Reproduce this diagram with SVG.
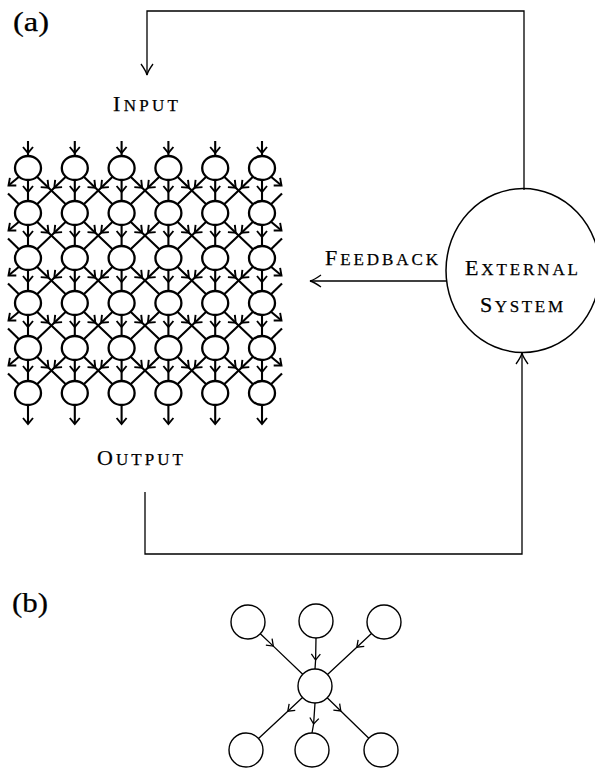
<svg xmlns="http://www.w3.org/2000/svg" width="595" height="768" viewBox="0 0 595 768">
<style>
.g{fill:none;stroke:#000;stroke-width:2.1}
.gm{marker-mid:url(#ag)}
.ge{marker-end:url(#ag)}
.n{fill:#fff;stroke:#000;stroke-width:2.3}
.l{fill:none;stroke:#000;stroke-width:1.3}
.bn{fill:#fff;stroke:#000;stroke-width:1.4}
.bm{marker-mid:url(#ab)}
text{font-family:"Liberation Serif","DejaVu Serif",serif;fill:#000;stroke:#000;stroke-width:0.25}
.sc{font-size:22px}
.sm{font-size:17px}
</style>
<defs>
<marker id="ag" markerUnits="userSpaceOnUse" viewBox="-10 -10 20 20" markerWidth="20" markerHeight="20" refX="0" refY="0" orient="auto" overflow="visible"><path d="M-6,-5 L0,0 L-6,5" fill="none" stroke="#000" stroke-width="1.9"/></marker>
<marker id="al" markerUnits="userSpaceOnUse" viewBox="-15 -15 30 30" markerWidth="30" markerHeight="30" refX="0" refY="0" orient="auto" overflow="visible"><path d="M-11,-6 Q-4,-1 0,0 Q-4,1 -11,6" fill="none" stroke="#000" stroke-width="1.3"/></marker>
<marker id="ab" markerUnits="userSpaceOnUse" viewBox="-10 -10 20 20" markerWidth="20" markerHeight="20" refX="0" refY="0" orient="auto" overflow="visible"><path d="M-6,-4.5 L0,0 L-6,4.5" fill="none" stroke="#000" stroke-width="1.3"/></marker>
</defs>
<rect width="595" height="768" fill="#fff"/>
<text x="13" y="31" font-size="27" textLength="36" lengthAdjust="spacingAndGlyphs">(a)</text>
<text x="12" y="612" font-size="27" textLength="36" lengthAdjust="spacingAndGlyphs">(b)</text>
<text class="sc" x="113" y="111" textLength="65" lengthAdjust="spacing">I<tspan class="sm">NPUT</tspan></text>
<text class="sc" x="325" y="265" textLength="113" lengthAdjust="spacing">F<tspan class="sm">EEDBACK</tspan></text>
<text class="sc" x="97" y="465" textLength="86" lengthAdjust="spacing">O<tspan class="sm">UTPUT</tspan></text>
<g id="connectors">
<path class="l" d="M524,190 L524,11 L147,11 L147,75" marker-end="url(#al)"/>
<path class="l" d="M446,281 L310,281" marker-end="url(#al)"/>
<path class="l" d="M145,492 L145,554 L522,554 L522,353" marker-end="url(#al)"/>
<g class="g">
<path class="gm" transform="translate(28 168)" d="M0,-27 L0,-15 L0,-12"/>
<path class="gm" transform="translate(74.8 168)" d="M0,-27 L0,-15 L0,-12"/>
<path class="gm" transform="translate(121.6 168)" d="M0,-27 L0,-15 L0,-12"/>
<path class="gm" transform="translate(168.4 168)" d="M0,-27 L0,-15 L0,-12"/>
<path class="gm" transform="translate(215.2 168)" d="M0,-27 L0,-15 L0,-12"/>
<path class="gm" transform="translate(262 168)" d="M0,-27 L0,-15 L0,-12"/>
<path class="ge" transform="translate(28 393)" d="M0,12 L0,31"/>
<path class="ge" transform="translate(74.8 393)" d="M0,12 L0,31"/>
<path class="ge" transform="translate(121.6 393)" d="M0,12 L0,31"/>
<path class="ge" transform="translate(168.4 393)" d="M0,12 L0,31"/>
<path class="ge" transform="translate(215.2 393)" d="M0,12 L0,31"/>
<path class="ge" transform="translate(262 393)" d="M0,12 L0,31"/>
<!-- row 0 -->
<path class="gm" transform="translate(28 168)" d="M0,12 L0,24 L0,33"/>
<path class="ge" transform="translate(28 168)" d="M-9,8.7 L-19.5,17.5"/>
<path class="gm" transform="translate(28 168)" d="M9,8.7 L20.5,19.7 L37.8,36.3"/>
<path class="gm" transform="translate(74.8 168)" d="M0,12 L0,24 L0,33"/>
<path class="gm" transform="translate(74.8 168)" d="M-9,8.7 L-20.5,19.7 L-37.8,36.3"/>
<path class="gm" transform="translate(74.8 168)" d="M9,8.7 L20.5,19.7 L37.8,36.3"/>
<path class="gm" transform="translate(121.6 168)" d="M0,12 L0,24 L0,33"/>
<path class="gm" transform="translate(121.6 168)" d="M-9,8.7 L-20.5,19.7 L-37.8,36.3"/>
<path class="gm" transform="translate(121.6 168)" d="M9,8.7 L20.5,19.7 L37.8,36.3"/>
<path class="gm" transform="translate(168.4 168)" d="M0,12 L0,24 L0,33"/>
<path class="gm" transform="translate(168.4 168)" d="M-9,8.7 L-20.5,19.7 L-37.8,36.3"/>
<path class="gm" transform="translate(168.4 168)" d="M9,8.7 L20.5,19.7 L37.8,36.3"/>
<path class="gm" transform="translate(215.2 168)" d="M0,12 L0,24 L0,33"/>
<path class="gm" transform="translate(215.2 168)" d="M-9,8.7 L-20.5,19.7 L-37.8,36.3"/>
<path class="gm" transform="translate(215.2 168)" d="M9,8.7 L20.5,19.7 L37.8,36.3"/>
<path class="gm" transform="translate(262 168)" d="M0,12 L0,24 L0,33"/>
<path class="gm" transform="translate(262 168)" d="M-9,8.7 L-20.5,19.7 L-37.8,36.3"/>
<path class="ge" transform="translate(262 168)" d="M9,8.7 L19.5,17.5"/>
<path transform="translate(28 213)" d="M-20,-19.5 L-9,-8.7"/>
<path transform="translate(262 213)" d="M20,-19.5 L9,-8.7"/>
<!-- row 1 -->
<path class="gm" transform="translate(28 213)" d="M0,12 L0,24 L0,33"/>
<path class="ge" transform="translate(28 213)" d="M-9,8.7 L-19.5,17.5"/>
<path class="gm" transform="translate(28 213)" d="M9,8.7 L20.5,19.7 L37.8,36.3"/>
<path class="gm" transform="translate(74.8 213)" d="M0,12 L0,24 L0,33"/>
<path class="gm" transform="translate(74.8 213)" d="M-9,8.7 L-20.5,19.7 L-37.8,36.3"/>
<path class="gm" transform="translate(74.8 213)" d="M9,8.7 L20.5,19.7 L37.8,36.3"/>
<path class="gm" transform="translate(121.6 213)" d="M0,12 L0,24 L0,33"/>
<path class="gm" transform="translate(121.6 213)" d="M-9,8.7 L-20.5,19.7 L-37.8,36.3"/>
<path class="gm" transform="translate(121.6 213)" d="M9,8.7 L20.5,19.7 L37.8,36.3"/>
<path class="gm" transform="translate(168.4 213)" d="M0,12 L0,24 L0,33"/>
<path class="gm" transform="translate(168.4 213)" d="M-9,8.7 L-20.5,19.7 L-37.8,36.3"/>
<path class="gm" transform="translate(168.4 213)" d="M9,8.7 L20.5,19.7 L37.8,36.3"/>
<path class="gm" transform="translate(215.2 213)" d="M0,12 L0,24 L0,33"/>
<path class="gm" transform="translate(215.2 213)" d="M-9,8.7 L-20.5,19.7 L-37.8,36.3"/>
<path class="gm" transform="translate(215.2 213)" d="M9,8.7 L20.5,19.7 L37.8,36.3"/>
<path class="gm" transform="translate(262 213)" d="M0,12 L0,24 L0,33"/>
<path class="gm" transform="translate(262 213)" d="M-9,8.7 L-20.5,19.7 L-37.8,36.3"/>
<path class="ge" transform="translate(262 213)" d="M9,8.7 L19.5,17.5"/>
<path transform="translate(28 258)" d="M-20,-19.5 L-9,-8.7"/>
<path transform="translate(262 258)" d="M20,-19.5 L9,-8.7"/>
<!-- row 2 -->
<path class="gm" transform="translate(28 258)" d="M0,12 L0,24 L0,33"/>
<path class="ge" transform="translate(28 258)" d="M-9,8.7 L-19.5,17.5"/>
<path class="gm" transform="translate(28 258)" d="M9,8.7 L20.5,19.7 L37.8,36.3"/>
<path class="gm" transform="translate(74.8 258)" d="M0,12 L0,24 L0,33"/>
<path class="gm" transform="translate(74.8 258)" d="M-9,8.7 L-20.5,19.7 L-37.8,36.3"/>
<path class="gm" transform="translate(74.8 258)" d="M9,8.7 L20.5,19.7 L37.8,36.3"/>
<path class="gm" transform="translate(121.6 258)" d="M0,12 L0,24 L0,33"/>
<path class="gm" transform="translate(121.6 258)" d="M-9,8.7 L-20.5,19.7 L-37.8,36.3"/>
<path class="gm" transform="translate(121.6 258)" d="M9,8.7 L20.5,19.7 L37.8,36.3"/>
<path class="gm" transform="translate(168.4 258)" d="M0,12 L0,24 L0,33"/>
<path class="gm" transform="translate(168.4 258)" d="M-9,8.7 L-20.5,19.7 L-37.8,36.3"/>
<path class="gm" transform="translate(168.4 258)" d="M9,8.7 L20.5,19.7 L37.8,36.3"/>
<path class="gm" transform="translate(215.2 258)" d="M0,12 L0,24 L0,33"/>
<path class="gm" transform="translate(215.2 258)" d="M-9,8.7 L-20.5,19.7 L-37.8,36.3"/>
<path class="gm" transform="translate(215.2 258)" d="M9,8.7 L20.5,19.7 L37.8,36.3"/>
<path class="gm" transform="translate(262 258)" d="M0,12 L0,24 L0,33"/>
<path class="gm" transform="translate(262 258)" d="M-9,8.7 L-20.5,19.7 L-37.8,36.3"/>
<path class="ge" transform="translate(262 258)" d="M9,8.7 L19.5,17.5"/>
<path transform="translate(28 303)" d="M-20,-19.5 L-9,-8.7"/>
<path transform="translate(262 303)" d="M20,-19.5 L9,-8.7"/>
<!-- row 3 -->
<path class="gm" transform="translate(28 303)" d="M0,12 L0,24 L0,33"/>
<path class="ge" transform="translate(28 303)" d="M-9,8.7 L-19.5,17.5"/>
<path class="gm" transform="translate(28 303)" d="M9,8.7 L20.5,19.7 L37.8,36.3"/>
<path class="gm" transform="translate(74.8 303)" d="M0,12 L0,24 L0,33"/>
<path class="gm" transform="translate(74.8 303)" d="M-9,8.7 L-20.5,19.7 L-37.8,36.3"/>
<path class="gm" transform="translate(74.8 303)" d="M9,8.7 L20.5,19.7 L37.8,36.3"/>
<path class="gm" transform="translate(121.6 303)" d="M0,12 L0,24 L0,33"/>
<path class="gm" transform="translate(121.6 303)" d="M-9,8.7 L-20.5,19.7 L-37.8,36.3"/>
<path class="gm" transform="translate(121.6 303)" d="M9,8.7 L20.5,19.7 L37.8,36.3"/>
<path class="gm" transform="translate(168.4 303)" d="M0,12 L0,24 L0,33"/>
<path class="gm" transform="translate(168.4 303)" d="M-9,8.7 L-20.5,19.7 L-37.8,36.3"/>
<path class="gm" transform="translate(168.4 303)" d="M9,8.7 L20.5,19.7 L37.8,36.3"/>
<path class="gm" transform="translate(215.2 303)" d="M0,12 L0,24 L0,33"/>
<path class="gm" transform="translate(215.2 303)" d="M-9,8.7 L-20.5,19.7 L-37.8,36.3"/>
<path class="gm" transform="translate(215.2 303)" d="M9,8.7 L20.5,19.7 L37.8,36.3"/>
<path class="gm" transform="translate(262 303)" d="M0,12 L0,24 L0,33"/>
<path class="gm" transform="translate(262 303)" d="M-9,8.7 L-20.5,19.7 L-37.8,36.3"/>
<path class="ge" transform="translate(262 303)" d="M9,8.7 L19.5,17.5"/>
<path transform="translate(28 348)" d="M-20,-19.5 L-9,-8.7"/>
<path transform="translate(262 348)" d="M20,-19.5 L9,-8.7"/>
<!-- row 4 -->
<path class="gm" transform="translate(28 348)" d="M0,12 L0,24 L0,33"/>
<path class="ge" transform="translate(28 348)" d="M-9,8.7 L-19.5,17.5"/>
<path class="gm" transform="translate(28 348)" d="M9,8.7 L20.5,19.7 L37.8,36.3"/>
<path class="gm" transform="translate(74.8 348)" d="M0,12 L0,24 L0,33"/>
<path class="gm" transform="translate(74.8 348)" d="M-9,8.7 L-20.5,19.7 L-37.8,36.3"/>
<path class="gm" transform="translate(74.8 348)" d="M9,8.7 L20.5,19.7 L37.8,36.3"/>
<path class="gm" transform="translate(121.6 348)" d="M0,12 L0,24 L0,33"/>
<path class="gm" transform="translate(121.6 348)" d="M-9,8.7 L-20.5,19.7 L-37.8,36.3"/>
<path class="gm" transform="translate(121.6 348)" d="M9,8.7 L20.5,19.7 L37.8,36.3"/>
<path class="gm" transform="translate(168.4 348)" d="M0,12 L0,24 L0,33"/>
<path class="gm" transform="translate(168.4 348)" d="M-9,8.7 L-20.5,19.7 L-37.8,36.3"/>
<path class="gm" transform="translate(168.4 348)" d="M9,8.7 L20.5,19.7 L37.8,36.3"/>
<path class="gm" transform="translate(215.2 348)" d="M0,12 L0,24 L0,33"/>
<path class="gm" transform="translate(215.2 348)" d="M-9,8.7 L-20.5,19.7 L-37.8,36.3"/>
<path class="gm" transform="translate(215.2 348)" d="M9,8.7 L20.5,19.7 L37.8,36.3"/>
<path class="gm" transform="translate(262 348)" d="M0,12 L0,24 L0,33"/>
<path class="gm" transform="translate(262 348)" d="M-9,8.7 L-20.5,19.7 L-37.8,36.3"/>
<path class="ge" transform="translate(262 348)" d="M9,8.7 L19.5,17.5"/>
<path transform="translate(28 393)" d="M-20,-19.5 L-9,-8.7"/>
<path transform="translate(262 393)" d="M20,-19.5 L9,-8.7"/>
</g>
<g class="l bm">
<path d="M260.3,633.7 L273.3,646.1 L302.7,674.3"/>
<path d="M316,638 L315.6,660 L315,669"/>
<path d="M371.5,633.6 L356.8,647.2 L327.5,674.4"/>
<path d="M302.5,697.6 L287.8,711.2 L258.5,738.4"/>
<path d="M315,703 L313.6,724 L312,733"/>
<path d="M327.2,697.8 L340.8,711 L368.8,738.2"/>
</g>
</g>
<g id="ext"><ellipse cx="523" cy="270.5" rx="77" ry="82" fill="none" stroke="#000" stroke-width="1.5"/>
<text class="sc" x="465" y="275" textLength="113" lengthAdjust="spacing">E<tspan class="sm">XTERNAL</tspan></text>
<text class="sc" x="480" y="312" textLength="83" lengthAdjust="spacing">S<tspan class="sm">YSTEM</tspan></text></g>
<g id="n00"><ellipse class="n" cx="28" cy="168" rx="13" ry="12"/></g>
<g id="n01"><ellipse class="n" cx="74.8" cy="168" rx="13" ry="12"/></g>
<g id="n02"><ellipse class="n" cx="121.6" cy="168" rx="13" ry="12"/></g>
<g id="n03"><ellipse class="n" cx="168.4" cy="168" rx="13" ry="12"/></g>
<g id="n04"><ellipse class="n" cx="215.2" cy="168" rx="13" ry="12"/></g>
<g id="n05"><ellipse class="n" cx="262" cy="168" rx="13" ry="12"/></g>
<g id="n10"><ellipse class="n" cx="28" cy="213" rx="13" ry="12"/></g>
<g id="n11"><ellipse class="n" cx="74.8" cy="213" rx="13" ry="12"/></g>
<g id="n12"><ellipse class="n" cx="121.6" cy="213" rx="13" ry="12"/></g>
<g id="n13"><ellipse class="n" cx="168.4" cy="213" rx="13" ry="12"/></g>
<g id="n14"><ellipse class="n" cx="215.2" cy="213" rx="13" ry="12"/></g>
<g id="n15"><ellipse class="n" cx="262" cy="213" rx="13" ry="12"/></g>
<g id="n20"><ellipse class="n" cx="28" cy="258" rx="13" ry="12"/></g>
<g id="n21"><ellipse class="n" cx="74.8" cy="258" rx="13" ry="12"/></g>
<g id="n22"><ellipse class="n" cx="121.6" cy="258" rx="13" ry="12"/></g>
<g id="n23"><ellipse class="n" cx="168.4" cy="258" rx="13" ry="12"/></g>
<g id="n24"><ellipse class="n" cx="215.2" cy="258" rx="13" ry="12"/></g>
<g id="n25"><ellipse class="n" cx="262" cy="258" rx="13" ry="12"/></g>
<g id="n30"><ellipse class="n" cx="28" cy="303" rx="13" ry="12"/></g>
<g id="n31"><ellipse class="n" cx="74.8" cy="303" rx="13" ry="12"/></g>
<g id="n32"><ellipse class="n" cx="121.6" cy="303" rx="13" ry="12"/></g>
<g id="n33"><ellipse class="n" cx="168.4" cy="303" rx="13" ry="12"/></g>
<g id="n34"><ellipse class="n" cx="215.2" cy="303" rx="13" ry="12"/></g>
<g id="n35"><ellipse class="n" cx="262" cy="303" rx="13" ry="12"/></g>
<g id="n40"><ellipse class="n" cx="28" cy="348" rx="13" ry="12"/></g>
<g id="n41"><ellipse class="n" cx="74.8" cy="348" rx="13" ry="12"/></g>
<g id="n42"><ellipse class="n" cx="121.6" cy="348" rx="13" ry="12"/></g>
<g id="n43"><ellipse class="n" cx="168.4" cy="348" rx="13" ry="12"/></g>
<g id="n44"><ellipse class="n" cx="215.2" cy="348" rx="13" ry="12"/></g>
<g id="n45"><ellipse class="n" cx="262" cy="348" rx="13" ry="12"/></g>
<g id="n50"><ellipse class="n" cx="28" cy="393" rx="13" ry="12"/></g>
<g id="n51"><ellipse class="n" cx="74.8" cy="393" rx="13" ry="12"/></g>
<g id="n52"><ellipse class="n" cx="121.6" cy="393" rx="13" ry="12"/></g>
<g id="n53"><ellipse class="n" cx="168.4" cy="393" rx="13" ry="12"/></g>
<g id="n54"><ellipse class="n" cx="215.2" cy="393" rx="13" ry="12"/></g>
<g id="n55"><ellipse class="n" cx="262" cy="393" rx="13" ry="12"/></g>
<g id="b-tl"><circle class="bn" cx="248" cy="622" r="17"/></g>
<g id="b-tm"><circle class="bn" cx="316" cy="621" r="17"/></g>
<g id="b-tr"><circle class="bn" cx="384" cy="622" r="17"/></g>
<g id="b-m"><circle class="bn" cx="315" cy="686" r="17"/></g>
<g id="b-bl"><circle class="bn" cx="246" cy="750" r="17"/></g>
<g id="b-bm"><circle class="bn" cx="312" cy="750" r="17"/></g>
<g id="b-br"><circle class="bn" cx="381" cy="750" r="17"/></g>
</svg>
